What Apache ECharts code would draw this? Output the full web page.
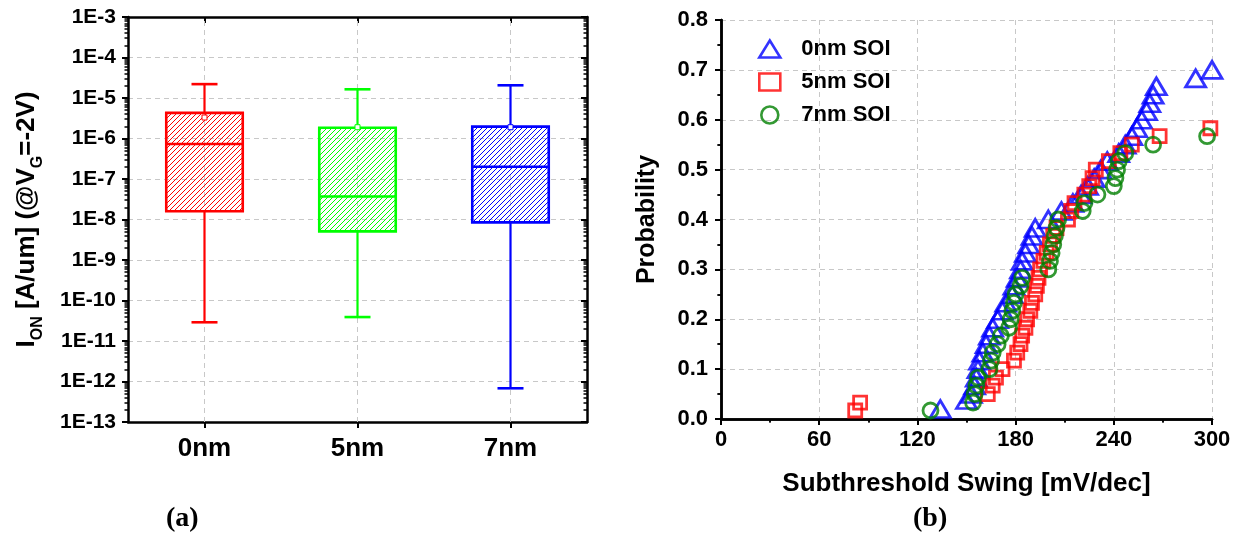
<!DOCTYPE html>
<html>
<head>
<meta charset="utf-8">
<script src="https://cdn.jsdelivr.net/npm/echarts@6/dist/echarts.min.js"></script>
<style>
html,body{margin:0;padding:0;background:#fff;}
#c{width:1244px;height:544px;}
</style>
</head>
<body>
<div id="c"></div>
<script>
// ---------- (a) box chart data ----------
const categories = ['0nm', '5nm', '7nm'];
const whiskerLow  = [2.9e-11, 3.9e-11, 6.8e-13];
const q1          = [1.6e-8, 5.1e-9, 8.5e-9];
const median      = [7.3e-7, 3.7e-8, 2.0e-7];
const q3          = [4.3e-6, 1.85e-6, 1.96e-6];
const whiskerHigh = [2.2e-5, 1.64e-5, 2.06e-5];
const meanValues  = [3.3e-6, 1.9e-6, 1.9e-6];
const boxColors   = ['#ff0000', '#00ff00', '#0000ff'];

// ---------- (b) scatter data ----------
const ss0nm = [134,150,153,155,156,157,158,160,162,164,166,169,172,174,178,179,181,183,184,186,188,190,192,200,208,215,220,224,228,232,236,243,247,251,254,257,260,262,264,266,290,300];
const p0nm  = [0.02,0.038,0.05,0.067,0.083,0.1,0.117,0.133,0.15,0.167,0.183,0.2,0.217,0.233,0.25,0.267,0.283,0.3,0.317,0.333,0.35,0.367,0.383,0.4,0.417,0.433,0.45,0.467,0.483,0.5,0.517,0.533,0.55,0.567,0.583,0.6,0.617,0.633,0.65,0.667,0.683,0.7];
const ss5nm = [82,85,163,166,168,172,179,181,183,184,186,187,189,190,192,193,194,195,197,199,201,203,205,212,214,216,222,225,227,229,237,244,251,268,299];
const p5nm  = [0.017,0.033,0.05,0.067,0.083,0.1,0.117,0.133,0.15,0.167,0.183,0.2,0.217,0.233,0.25,0.267,0.283,0.3,0.317,0.333,0.35,0.367,0.383,0.4,0.417,0.433,0.45,0.467,0.483,0.5,0.517,0.533,0.55,0.567,0.583];
const ss7nm = [128,154,155,156,157,164,165,166,169,171,176,177,178,179,180,183,184,200,201,202,203,204,205,206,221,222,230,240,241,242,243,247,264,297];
const p7nm  = [0.017,0.033,0.05,0.067,0.083,0.1,0.117,0.133,0.15,0.167,0.183,0.2,0.217,0.233,0.25,0.267,0.283,0.3,0.317,0.333,0.35,0.367,0.383,0.4,0.417,0.433,0.45,0.467,0.483,0.5,0.517,0.533,0.55,0.567];

const FONT = 'Liberation Sans';
const GRIDC = '#c8c8c8';

function hatch(color) {
  const s = 5;
  const c = document.createElement('canvas');
  c.width = s; c.height = s;
  const g = c.getContext('2d');
  g.strokeStyle = color; g.lineWidth = 1;
  g.beginPath();
  g.moveTo(0, s); g.lineTo(s, 0);
  g.moveTo(-1, 1); g.lineTo(1, -1);
  g.moveTo(s - 1, s + 1); g.lineTo(s + 1, s - 1);
  g.stroke();
  return c;
}
const patterns = boxColors.map(hatch);

const boxData = categories.map((c, i) => [i, whiskerLow[i], q1[i], median[i], q3[i], whiskerHigh[i], meanValues[i]]);

function renderBox(params, api) {
  const i = api.value(0);
  const col = boxColors[i];
  const band = api.size([1, 1e-6])[0];
  const bw = band * 0.5, cw = band * 0.17;
  const pLow = api.coord([i, api.value(1)]);
  const pQ1 = api.coord([i, api.value(2)]);
  const pMed = api.coord([i, api.value(3)]);
  const pQ3 = api.coord([i, api.value(4)]);
  const pHigh = api.coord([i, api.value(5)]);
  const pMean = api.coord([i, api.value(6)]);
  const x = pQ1[0];
  const ls = {stroke: col, lineWidth: 2.2};
  return {
    type: 'group',
    children: [
      {type: 'line', shape: {x1: x, y1: pLow[1], x2: x, y2: pQ1[1]}, style: ls},
      {type: 'line', shape: {x1: x, y1: pQ3[1], x2: x, y2: pHigh[1]}, style: ls},
      {type: 'line', shape: {x1: x - cw / 2, y1: pLow[1], x2: x + cw / 2, y2: pLow[1]}, style: {stroke: col, lineWidth: 2.6}},
      {type: 'line', shape: {x1: x - cw / 2, y1: pHigh[1], x2: x + cw / 2, y2: pHigh[1]}, style: {stroke: col, lineWidth: 2.6}},
      {type: 'rect', shape: {x: x - bw / 2, y: pQ3[1], width: bw, height: pQ1[1] - pQ3[1]},
        style: {fill: {image: patterns[i], repeat: 'repeat'}, stroke: col, lineWidth: 2.6}},
      {type: 'line', shape: {x1: x - bw / 2, y1: pMed[1], x2: x + bw / 2, y2: pMed[1]}, style: {stroke: col, lineWidth: 2.6}},
      {type: 'rect', shape: {x: x - 2.5, y: pMean[1] - 2.5, width: 5, height: 5}, style: {fill: '#fff', stroke: col, lineWidth: 1}}
    ]
  };
}

const axisLine = {show: true, lineStyle: {color: '#000', width: 2.5}};
const dashed = {show: true, lineStyle: {color: GRIDC, type: [5, 4], width: 1}};
const tickOut = {show: true, length: 6, lineStyle: {color: '#000', width: 2}};
const tickIn = {show: true, inside: true, length: 6, lineStyle: {color: '#000', width: 2}};
const minorT = (n) => ({show: true, splitNumber: n, length: 3.5, lineStyle: {color: '#000', width: 1.5}});

const chart = echarts.init(document.getElementById('c'), null, {renderer: 'canvas'});
chart.setOption({
  animation: false,
  backgroundColor: '#fff',
  textStyle: {fontFamily: FONT},
  grid: [
    {left: 128, right: 657, top: 17, bottom: 122},
    {left: 721, right: 32, top: 20, bottom: 125}
  ],
  graphic: [
    {type: 'text', left: 166, top: 505, style: {text: '(a)', font: 'bold 28px "Liberation Serif"', fill: '#000'}},
    {type: 'text', left: 913, top: 505, style: {text: '(b)', font: 'bold 28px "Liberation Serif"', fill: '#000'}}
  ],
  legend: {
    data: ['0nm SOI', '5nm SOI', '7nm SOI'],
    orient: 'vertical',
    left: 753, top: 33,
    itemWidth: 21, itemHeight: 17, itemGap: 11,
    itemStyle: {borderWidth: 2.6},
    textStyle: {fontFamily: FONT, fontWeight: 'bold', fontSize: 22, color: '#000', padding: [0, 0, 0, 16]}
  },
  xAxis: [
    {type: 'category', gridIndex: 0, data: categories, boundaryGap: true,
      axisLine: axisLine, axisTick: Object.assign({alignWithLabel: true}, tickOut),
      axisLabel: {fontFamily: FONT, fontWeight: 'bold', fontSize: 26, color: '#000', margin: 14},
      splitLine: {show: false}},
    {type: 'category', gridIndex: 0, data: categories, position: 'top', boundaryGap: true,
      axisLine: axisLine, axisTick: Object.assign({alignWithLabel: true}, tickIn),
      axisLabel: {show: false}, splitLine: {show: false}},
    {type: 'value', gridIndex: 1, min: 0, max: 300, interval: 60,
      axisLine: axisLine, axisTick: tickOut, minorTick: minorT(2),
      axisLabel: {fontFamily: FONT, fontWeight: 'bold', fontSize: 22, color: '#000', margin: 10},
      splitLine: dashed,
      name: 'Subthreshold Swing [mV/dec]', nameLocation: 'middle', nameGap: 52,
      nameTextStyle: {fontFamily: FONT, fontWeight: 'bold', fontSize: 26, color: '#000'}},
    {type: 'value', gridIndex: 1, min: 0, max: 300, interval: 60, position: 'top',
      axisLine: axisLine, axisTick: tickIn, minorTick: minorT(2),
      axisLabel: {show: false}, splitLine: {show: false}}
  ],
  yAxis: [
    {type: 'log', gridIndex: 0, logBase: 10, min: 1e-13, max: 1e-3, interval: 1,
      axisLine: axisLine, axisTick: tickOut, minorTick: minorT(9),
      axisLabel: {fontFamily: FONT, fontWeight: 'bold', fontSize: 21, color: '#000', margin: 12,
        formatter: (v) => '1E' + Math.round(Math.log10(v))},
      splitLine: dashed,
      name: '{m|I}{s|ON}{m| [A/um] (@V}{s|G}{m|=-2V)}', nameLocation: 'middle', nameGap: 82, nameRotate: 90,
      nameTextStyle: {
        rich: {
          m: {fontFamily: FONT, fontWeight: 'bold', fontSize: 26, color: '#000', verticalAlign: 'bottom', padding: [0, 0, 6, 0]},
          s: {fontFamily: FONT, fontWeight: 'bold', fontSize: 16, color: '#000', verticalAlign: 'bottom'}
        }
      }},
    {type: 'log', gridIndex: 0, logBase: 10, min: 1e-13, max: 1e-3, interval: 1, position: 'right',
      axisLine: axisLine, axisTick: tickIn, minorTick: minorT(9),
      axisLabel: {show: false}, splitLine: {show: false}},
    {type: 'value', gridIndex: 1, min: 0, max: 0.8, interval: 0.1,
      axisLine: axisLine, axisTick: tickOut, minorTick: minorT(2),
      axisLabel: {fontFamily: FONT, fontWeight: 'bold', fontSize: 22, color: '#000', margin: 13,
        formatter: (v) => v.toFixed(1)},
      splitLine: dashed,
      name: 'Probability', nameLocation: 'middle', nameGap: 61, nameRotate: 90,
      nameTextStyle: {fontFamily: FONT, fontWeight: 'bold', fontSize: 25, color: '#000'}},
    {type: 'value', gridIndex: 1, min: 0, max: 0.8, interval: 0.1, position: 'right',
      axisLine: axisLine, axisTick: tickIn, minorTick: minorT(2),
      axisLabel: {show: false}, splitLine: {show: false}}
  ],
  series: [
    {type: 'custom', xAxisIndex: 0, yAxisIndex: 0, data: boxData, renderItem: renderBox,
      encode: {x: 0, y: [1, 2, 3, 4, 5]}, z: 4,
      markLine: {silent: true, symbol: 'none', z: 1, label: {show: false},
        lineStyle: {color: GRIDC, type: [5, 4], width: 1},
        data: categories.map(c => ({xAxis: c}))}},
    {type: 'scatter', name: '0nm SOI', xAxisIndex: 2, yAxisIndex: 2,
      data: ss0nm.map((v, i) => [v, p0nm[i]]), symbol: 'triangle', symbolSize: [20, 17],
      itemStyle: {color: 'rgba(0,0,0,0)', borderColor: '#0000ff', borderWidth: 2.8}, z: 3},
    {type: 'scatter', name: '5nm SOI', xAxisIndex: 2, yAxisIndex: 2,
      data: ss5nm.map((v, i) => [v, p5nm[i]]), symbol: 'rect', symbolSize: 13,
      itemStyle: {color: 'rgba(0,0,0,0)', borderColor: '#ff0000', borderWidth: 2.8}, z: 4},
    {type: 'scatter', name: '7nm SOI', xAxisIndex: 2, yAxisIndex: 2,
      data: ss7nm.map((v, i) => [v, p7nm[i]]), symbol: 'circle', symbolSize: 15,
      itemStyle: {color: 'rgba(0,0,0,0)', borderColor: '#008000', borderWidth: 2.8}, z: 5}
  ]
});
</script>
</body>
</html>
